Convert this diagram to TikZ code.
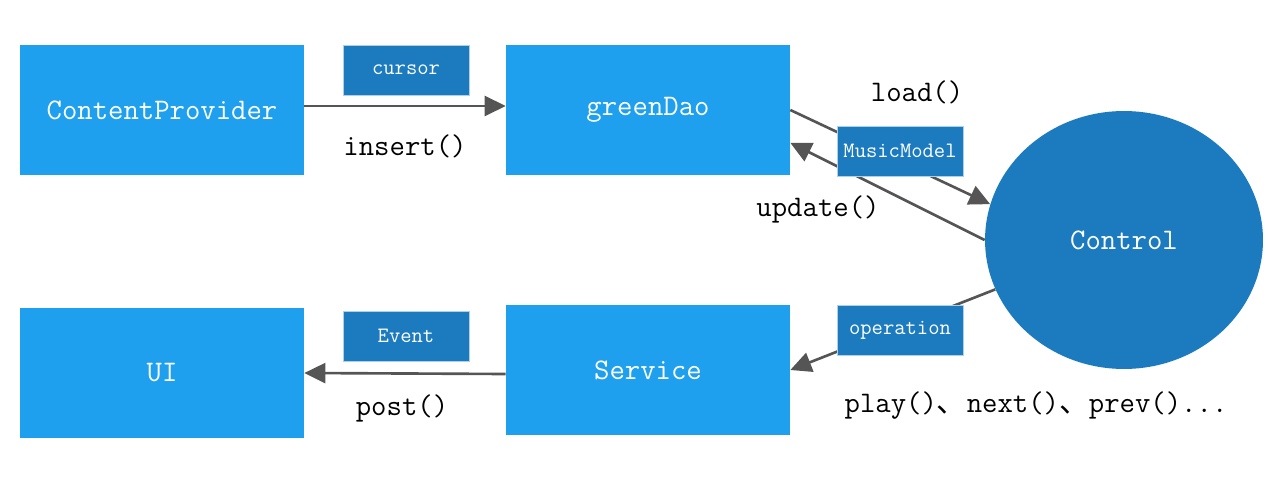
\documentclass[tikz,border=0pt]{standalone}
\usepackage{fontspec}
\usepackage{xcolor}
\usetikzlibrary{calc,positioning,shapes,arrows.meta}
\newfontfamily\cjk{Noto Sans CJK SC}
\definecolor{boxblue}{HTML}{1EA0EF}
\definecolor{darkblue}{HTML}{1B7BBE}
\definecolor{arrowgray}{HTML}{555555}
\tikzset{
  block/.style={fill=boxblue, text=white, minimum width=5.68cm, minimum height=2.6cm, inner sep=0pt,
    font=\ttfamily\fontsize{17}{20}\selectfont},
  tag/.style={fill=darkblue, draw=darkblue!35!white, line width=0.5pt, text=white, minimum width=2.52cm,
    minimum height=1cm, inner sep=0pt, font=\ttfamily\fontsize{12.5}{14}\selectfont},
  flow/.style={draw=arrowgray, line width=1.5pt, -{Triangle[length=0.42cm,width=0.4cm]}},
  call/.style={font=\ttfamily\fontsize{17}{20}\selectfont}
}

\begin{document}
\begin{tikzpicture}[x=0.02cm, y=-0.02cm]
      \useasboundingbox (0, 0) rectangle (1280, 479);

      % blocks
      \node[block] (provider) at (162, 110) {ContentProvider};
      \node[block] (dao) at (648, 110) {greenDao};
      \node[block] (ui) at (162, 373) {UI};
      \node[block] (service) at (648, 370) {Service};
      \node[ellipse, fill=darkblue, text=white, minimum width=5.56cm, minimum height=5.16cm, inner sep=0pt,
        font=\ttfamily\fontsize{17}{20}\selectfont] (control) at (1124, 240) {Control};

      % connectors
      \draw[flow] ([yshift=0.08cm]provider.east) -- ([yshift=0.08cm]dao.west);
      \draw[flow] (dao.east) -- (control.165);
      \draw[flow] (control.west) -- (dao.-13);
      \draw[flow] (control.201) -- (service.east);
      \draw[flow] ([yshift=-0.08cm]service.west) -- (ui.east);

      % tags
      \node[tag] (cursor) at (406, 70) {cursor};
      \node[tag] (event) at (406, 336) {Event};
      \node[tag] (model) at (900, 151) {MusicModel};
      \node[tag] (operation) at (900, 330) {operation};

      % calls
      \node[call] (insert) at (405, 146) {insert()};
      \node[call] (load) at (917, 92) {load()};
      \node[call] (update) at (818, 209) {update()};
      \node[call] (post) at (402, 408) {post()};
      \node[call] (play) at (1036, 406) {play()\cjk 、\ttfamily next()\cjk 、\ttfamily prev()...};
    \end{tikzpicture}
\end{document}
